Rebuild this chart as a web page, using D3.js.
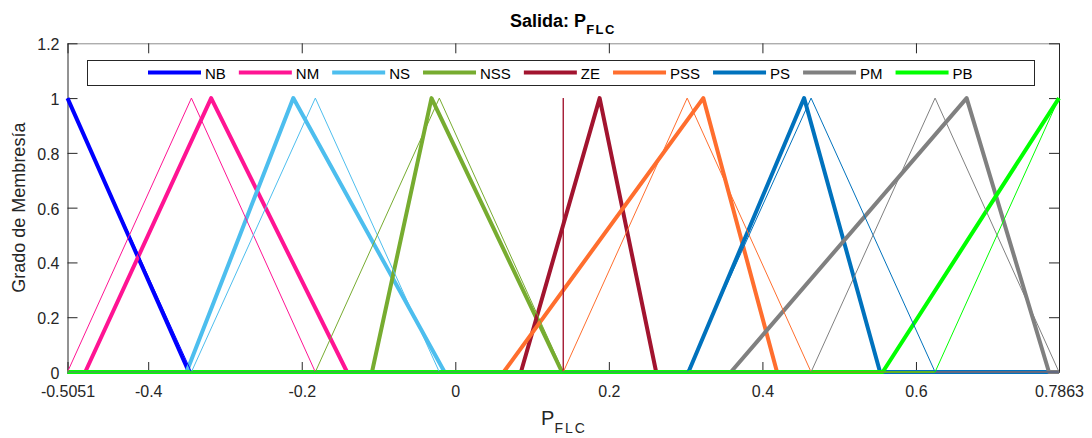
<!DOCTYPE html>
<html>
<head>
<meta charset="utf-8">
<script src="https://cdn.jsdelivr.net/npm/d3@7"></script>
<style>
  html, body { margin: 0; padding: 0; background: #fff; }
  svg { display: block; font-family: "Liberation Sans", Arial, Helvetica, sans-serif; }
</style>
</head>
<body>
<svg id="chart" width="1092" height="438"></svg>
<script>
// ---- data ----
const categories = ["NB", "NM", "NS", "NSS", "ZE", "PSS", "PS", "PM", "PB"];
// tuned (thick) triangular membership functions [a, b, c]
const thickA = [-0.5051, -0.482, -0.350, -0.1085, 0.0855, 0.063, 0.3037, 0.359, 0.5567];
const thickB = [-0.5051, -0.318, -0.211, -0.031, 0.188, 0.323, 0.4543, 0.666, 0.7863];
const thickC = [-0.347, -0.141, -0.014, 0.139, 0.2616, 0.419, 0.5532, 0.7732, 0.7863];
// original (thin) triangular membership functions [a, b, c]
const thinA = [-0.5051, -0.5051, -0.3437, -0.1823, 0.1406, 0.1406, 0.3020, 0.4634, 0.6249];
const thinB = [-0.5051, -0.3437, -0.1823, -0.0208, 0.1406, 0.3020, 0.4634, 0.6249, 0.7863];
const thinC = [-0.3437, -0.1823, -0.0208, 0.1406, 0.1406, 0.4634, 0.6249, 0.7863, 0.7863];
const xDomain = [-0.5051, 0.7863];
const xTickValues = [-0.5051, -0.4, -0.2, 0, 0.2, 0.4, 0.6, 0.7863];
const xTickLabels = ["-0.5051", "-0.4", "-0.2", "0", "0.2", "0.4", "0.6", "0.7863"];
const yTickValues = [0, 0.2, 0.4, 0.6, 0.8, 1, 1.2];
const yTickLabels = ["0", "0.2", "0.4", "0.6", "0.8", "1", "1.2"];
const colors = ["#0000ff", "#ff1493", "#4dbeee", "#77ac30", "#a2142f", "#ff6e2e", "#0072bd", "#808080", "#00ff00"];

// ---- layout ----
const L = 67.5, R = 1059, T = 43.3, B = 372;
const svg = d3.select("#chart");
const x = d3.scaleLinear().domain(xDomain).range([L, R]);
const y = d3.scaleLinear().domain([0, 1.2]).range([B, T]);
const ink = "#262626";

function trimfPoints(a, b, c) {
  const [xmin, xmax] = xDomain;
  const pts = [];
  if (a > xmin) pts.push([xmin, 0]);
  if (a < b || a > xmin) pts.push([a, 0]);
  pts.push([b, 1]);
  if (c > b || c < xmax) pts.push([c, 0]);
  if (c < xmax) pts.push([xmax, 0]);
  return pts;
}
const line = d3.line().x(d => x(d[0])).y(d => y(d[1]));

// axes (box)
const gx = svg.append("g").attr("transform", `translate(0,${B})`)
  .call(d3.axisBottom(x).tickValues(xTickValues).tickFormat((d, i) => xTickLabels[i])
    .tickSizeInner(-10).tickSizeOuter(0).tickPadding(14));
const gxTop = svg.append("g").attr("transform", `translate(0,${T})`)
  .call(d3.axisTop(x).tickValues(xTickValues).tickFormat("").tickSizeInner(-10).tickSizeOuter(0));
const gy = svg.append("g").attr("transform", `translate(${L},0)`)
  .call(d3.axisLeft(y).tickValues(yTickValues).tickFormat((d, i) => yTickLabels[i])
    .tickSizeInner(-10).tickSizeOuter(0).tickPadding(8));
const gyR = svg.append("g").attr("transform", `translate(${R},0)`)
  .call(d3.axisRight(y).tickValues(yTickValues).tickFormat("").tickSizeInner(-10).tickSizeOuter(0));
[gx, gy, gyR].forEach(g => {
  g.selectAll("path, line").attr("stroke", ink);
  g.selectAll("text").attr("fill", ink).style("font-size", "16px").style("font-family", "'Liberation Sans', Arial, sans-serif");
});
gxTop.selectAll("line").attr("stroke", ink);
gxTop.select("path").attr("stroke", "#8c8c8c");
gy.selectAll("text").attr("dy", "0.41em");

// thick lines
categories.forEach((c, i) => {
  svg.append("path").datum(trimfPoints(thickA[i], thickB[i], thickC[i]))
    .attr("d", line).attr("fill", "none").attr("stroke", colors[i])
    .attr("stroke-width", 4).attr("stroke-linejoin", "round").attr("stroke-linecap", "butt");
});
// thin lines
categories.forEach((c, i) => {
  svg.append("path").datum(trimfPoints(thinA[i], thinB[i], thinC[i]))
    .attr("d", line).attr("fill", "none").attr("stroke", colors[i])
    .attr("stroke-width", 1).attr("stroke-linejoin", "miter");
});

// legend
const leg = svg.append("g");
leg.append("rect").attr("x", 87.5).attr("y", 60.5).attr("width", 947).attr("height", 25)
  .attr("fill", "#fff").attr("stroke", ink).attr("stroke-width", 1);
let lx = 148;
categories.forEach((c, i) => {
  leg.append("line").attr("x1", lx).attr("x2", lx + 53).attr("y1", 72.5).attr("y2", 72.5)
    .attr("stroke", colors[i]).attr("stroke-width", 4);
  const t = leg.append("text").attr("x", lx + 57).attr("y", 78.5).attr("fill", "#000")
    .style("font-size", "15px").text(c);
  lx += 57 + t.node().getComputedTextLength() + 13;
});

// title
const title = svg.append("text").attr("x", 563).attr("y", 26.7).attr("text-anchor", "middle")
  .attr("fill", "#000").style("font-size", "18px").style("font-weight", "bold");
title.append("tspan").text("Salida: P");
title.append("tspan").attr("dy", 7.6).style("font-size", "13px").style("letter-spacing", "1.5px").text("FLC");

// x label
const xl = svg.append("text").attr("x", 564).attr("y", 425).attr("text-anchor", "middle")
  .attr("fill", ink).style("font-size", "20px");
xl.append("tspan").text("P");
xl.append("tspan").attr("dy", 8).style("font-size", "14px").style("letter-spacing", "2px").text("FLC");

// y label
svg.append("text").attr("transform", `translate(25,${(T + B) / 2}) rotate(-90)`)
  .attr("text-anchor", "middle").attr("fill", ink).style("font-size", "18px")
  .text("Grado de Membresía");
</script>
</body>
</html>
